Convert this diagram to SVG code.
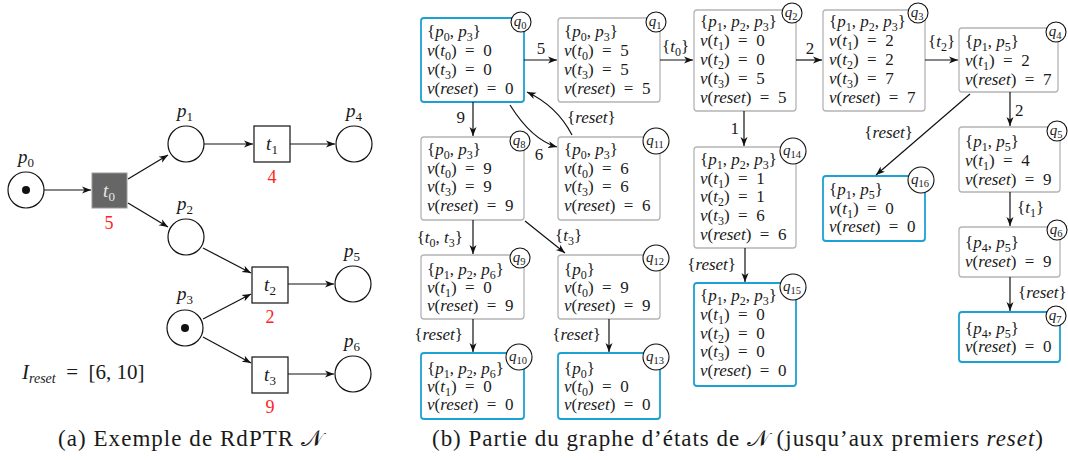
<svg xmlns="http://www.w3.org/2000/svg" width="1068" height="460" viewBox="0 0 1068 460" font-family="'Liberation Serif','Times New Roman',Times,'DejaVu Serif',serif">
<style>
.t{font-family:'Liberation Serif','Times New Roman',Times,'Noto Serif','DejaVu Serif',serif;font-size:17px;fill:#1a1a1a}
.i{font-style:italic}
.s{font-size:12px}
.ql{font-size:15px;text-anchor:middle}
.qs{font-size:10.5px}
.nb{fill:#fff;stroke:#b4b4b4;stroke-width:1.3}
.nr{fill:#fff;stroke:#1ba1d2;stroke-width:1.8}
.qc{fill:#fff;stroke:#111;stroke-width:1.1}
.e{fill:none;stroke:#111;stroke-width:1.2;marker-end:url(#ah)}
.pl{fill:#fff;stroke:#111;stroke-width:1.2}
.tr{fill:#fff;stroke:#111;stroke-width:1.2}
.big{font-size:19px}
.bs{font-size:13px}
.red{fill:#f22;font-size:18px;text-anchor:middle}
.mid{text-anchor:middle}
.end{text-anchor:end}
.cap{font-size:23px}
.cal{font-family:'DejaVu Serif','DejaVu Sans','Noto Sans',serif}
</style>
<defs>
<marker id="ah" markerWidth="10" markerHeight="8" refX="9" refY="4" orient="auto" markerUnits="userSpaceOnUse"><path d="M0,0.5 L9,4 L0,7.5 L2.5,4 z" fill="#111"/></marker>
</defs>

<g id="p0"><circle class="pl" cx="26" cy="190" r="18"/><circle cx="26" cy="190" r="4" fill="#111"/><text class="t big mid" x="26" y="163"><tspan class="i">p</tspan><tspan class="bs" dy="4">0</tspan></text></g>
<g id="t0"><rect x="92" y="173" width="35" height="35" fill="#666" stroke="#999" stroke-width="1"/><text class="t big mid" x="109" y="197" style="fill:#e6e6e6"><tspan class="i">t</tspan><tspan class="bs" dy="4">0</tspan></text><text class="t red" x="109" y="229">5</text></g>
<g id="p1"><circle class="pl" cx="186" cy="144" r="18"/><text class="t big mid" x="185" y="117"><tspan class="i">p</tspan><tspan class="bs" dy="4">1</tspan></text></g>
<g id="t1"><rect class="tr" x="254" y="126" width="36" height="36"/><text class="t big mid" x="272" y="150"><tspan class="i">t</tspan><tspan class="bs" dy="4">1</tspan></text><text class="t red" x="272" y="183">4</text></g>
<g id="p4"><circle class="pl" cx="354" cy="144" r="18"/><text class="t big mid" x="354" y="117"><tspan class="i">p</tspan><tspan class="bs" dy="4">4</tspan></text></g>
<g id="p2"><circle class="pl" cx="186" cy="237" r="18"/><text class="t big mid" x="185" y="210"><tspan class="i">p</tspan><tspan class="bs" dy="4">2</tspan></text></g>
<g id="t2"><rect class="tr" x="252" y="267" width="36" height="36"/><text class="t big mid" x="270" y="291"><tspan class="i">t</tspan><tspan class="bs" dy="4">2</tspan></text><text class="t red" x="270" y="323">2</text></g>
<g id="p5"><circle class="pl" cx="353" cy="284" r="18"/><text class="t big mid" x="352" y="257"><tspan class="i">p</tspan><tspan class="bs" dy="4">5</tspan></text></g>
<g id="p3"><circle class="pl" cx="185" cy="328" r="18"/><circle cx="185" cy="328" r="4" fill="#111"/><text class="t big mid" x="185" y="300"><tspan class="i">p</tspan><tspan class="bs" dy="4">3</tspan></text></g>
<g id="t3"><rect class="tr" x="252" y="357" width="36" height="36"/><text class="t big mid" x="270" y="381"><tspan class="i">t</tspan><tspan class="bs" dy="4">3</tspan></text><text class="t red" x="270" y="413">9</text></g>
<g id="p6"><circle class="pl" cx="353" cy="374" r="18"/><text class="t big mid" x="352" y="347"><tspan class="i">p</tspan><tspan class="bs" dy="4">6</tspan></text></g>
<text class="t" x="22" y="379" style="font-size:21px"><tspan class="i">I</tspan><tspan class="i" style="font-size:14px" dy="4">reset</tspan><tspan dy="-4">&#8194;=&#8194;[6, 10]</tspan></text>

<g id="net-arcs">
<path class="e" d="M44,190 L91,190"/>
<path class="e" d="M128,179 L168,155"/>
<path class="e" d="M128,203 L168,227"/>
<path class="e" d="M204,144 L253,144"/>
<path class="e" d="M290,144 L335,144"/>
<path class="e" d="M203,248 L251,273"/>
<path class="e" d="M203,319 L251,294"/>
<path class="e" d="M203,337 L251,363"/>
<path class="e" d="M288,284 L334,284"/>
<path class="e" d="M288,374 L334,374"/>
</g>

<g id="q0"><rect class="nr" x="421" y="18" width="103" height="84" rx="3"/>
<text class="t" x="427" y="37.3">{<tspan class="i">p</tspan><tspan class="s" dy="4">0</tspan><tspan dy="-4">, </tspan><tspan class="i">p</tspan><tspan class="s" dy="4">3</tspan><tspan dy="-4">}</tspan></text>
<text class="t" x="427" y="56"><tspan class="i">v</tspan>(<tspan class="i">t</tspan><tspan class="s" dy="4">0</tspan><tspan dy="-4">)&#8194;=&#8194;0</tspan></text>
<text class="t" x="427" y="74.8"><tspan class="i">v</tspan>(<tspan class="i">t</tspan><tspan class="s" dy="4">3</tspan><tspan dy="-4">)&#8194;=&#8194;0</tspan></text>
<text class="t" x="427" y="93.5"><tspan class="i">v</tspan>(<tspan class="i">reset</tspan>)&#8194;=&#8194;0</text>
<circle class="qc" cx="521" cy="22" r="10"/><text class="t ql" x="520" y="25.5"><tspan class="i">q</tspan><tspan class="qs" dy="3">0</tspan></text></g>

<g id="q1"><rect class="nb" x="558" y="18" width="102" height="84" rx="3"/>
<text class="t" x="564" y="37.3">{<tspan class="i">p</tspan><tspan class="s" dy="4">0</tspan><tspan dy="-4">, </tspan><tspan class="i">p</tspan><tspan class="s" dy="4">3</tspan><tspan dy="-4">}</tspan></text>
<text class="t" x="564" y="56"><tspan class="i">v</tspan>(<tspan class="i">t</tspan><tspan class="s" dy="4">0</tspan><tspan dy="-4">)&#8194;=&#8194;5</tspan></text>
<text class="t" x="564" y="74.8"><tspan class="i">v</tspan>(<tspan class="i">t</tspan><tspan class="s" dy="4">3</tspan><tspan dy="-4">)&#8194;=&#8194;5</tspan></text>
<text class="t" x="564" y="93.5"><tspan class="i">v</tspan>(<tspan class="i">reset</tspan>)&#8194;=&#8194;5</text>
<circle class="qc" cx="656" cy="22" r="10"/><text class="t ql" x="655" y="25.5"><tspan class="i">q</tspan><tspan class="qs" dy="3">1</tspan></text></g>

<g id="q2"><rect class="nb" x="694" y="10" width="102" height="101" rx="3"/>
<text class="t" x="700" y="26.7">{<tspan class="i">p</tspan><tspan class="s" dy="4">1</tspan><tspan dy="-4">, </tspan><tspan class="i">p</tspan><tspan class="s" dy="4">2</tspan><tspan dy="-4">, </tspan><tspan class="i">p</tspan><tspan class="s" dy="4">3</tspan><tspan dy="-4">}</tspan></text>
<text class="t" x="700" y="45.7"><tspan class="i">v</tspan>(<tspan class="i">t</tspan><tspan class="s" dy="4">1</tspan><tspan dy="-4">)&#8194;=&#8194;0</tspan></text>
<text class="t" x="700" y="64.7"><tspan class="i">v</tspan>(<tspan class="i">t</tspan><tspan class="s" dy="4">2</tspan><tspan dy="-4">)&#8194;=&#8194;0</tspan></text>
<text class="t" x="700" y="83.7"><tspan class="i">v</tspan>(<tspan class="i">t</tspan><tspan class="s" dy="4">3</tspan><tspan dy="-4">)&#8194;=&#8194;5</tspan></text>
<text class="t" x="700" y="102.7"><tspan class="i">v</tspan>(<tspan class="i">reset</tspan>)&#8194;=&#8194;5</text>
<circle class="qc" cx="792" cy="13" r="10"/><text class="t ql" x="791" y="16.5"><tspan class="i">q</tspan><tspan class="qs" dy="3">2</tspan></text></g>

<g id="q3"><rect class="nb" x="823" y="10" width="102" height="101" rx="3"/>
<text class="t" x="829" y="26.7">{<tspan class="i">p</tspan><tspan class="s" dy="4">1</tspan><tspan dy="-4">, </tspan><tspan class="i">p</tspan><tspan class="s" dy="4">2</tspan><tspan dy="-4">, </tspan><tspan class="i">p</tspan><tspan class="s" dy="4">3</tspan><tspan dy="-4">}</tspan></text>
<text class="t" x="829" y="45.7"><tspan class="i">v</tspan>(<tspan class="i">t</tspan><tspan class="s" dy="4">1</tspan><tspan dy="-4">)&#8194;=&#8194;2</tspan></text>
<text class="t" x="829" y="64.7"><tspan class="i">v</tspan>(<tspan class="i">t</tspan><tspan class="s" dy="4">2</tspan><tspan dy="-4">)&#8194;=&#8194;2</tspan></text>
<text class="t" x="829" y="83.7"><tspan class="i">v</tspan>(<tspan class="i">t</tspan><tspan class="s" dy="4">3</tspan><tspan dy="-4">)&#8194;=&#8194;7</tspan></text>
<text class="t" x="829" y="102.7"><tspan class="i">v</tspan>(<tspan class="i">reset</tspan>)&#8194;=&#8194;7</text>
<circle class="qc" cx="918" cy="13" r="10"/><text class="t ql" x="917" y="16.5"><tspan class="i">q</tspan><tspan class="qs" dy="3">3</tspan></text></g>

<g id="q4"><rect class="nb" x="959" y="28" width="99" height="64" rx="3"/>
<text class="t" x="965" y="47">{<tspan class="i">p</tspan><tspan class="s" dy="4">1</tspan><tspan dy="-4">, </tspan><tspan class="i">p</tspan><tspan class="s" dy="4">5</tspan><tspan dy="-4">}</tspan></text>
<text class="t" x="965" y="65.8"><tspan class="i">v</tspan>(<tspan class="i">t</tspan><tspan class="s" dy="4">1</tspan><tspan dy="-4">)&#8194;=&#8194;2</tspan></text>
<text class="t" x="965" y="84.6"><tspan class="i">v</tspan>(<tspan class="i">reset</tspan>)&#8194;=&#8194;7</text>
<circle class="qc" cx="1056" cy="32" r="10"/><text class="t ql" x="1055" y="35.5"><tspan class="i">q</tspan><tspan class="qs" dy="3">4</tspan></text></g>

<g id="q5"><rect class="nb" x="959" y="127" width="101" height="65" rx="3"/>
<text class="t" x="965" y="147.3">{<tspan class="i">p</tspan><tspan class="s" dy="4">1</tspan><tspan dy="-4">, </tspan><tspan class="i">p</tspan><tspan class="s" dy="4">5</tspan><tspan dy="-4">}</tspan></text>
<text class="t" x="965" y="166"><tspan class="i">v</tspan>(<tspan class="i">t</tspan><tspan class="s" dy="4">1</tspan><tspan dy="-4">)&#8194;=&#8194;4</tspan></text>
<text class="t" x="965" y="184.7"><tspan class="i">v</tspan>(<tspan class="i">reset</tspan>)&#8194;=&#8194;9</text>
<circle class="qc" cx="1057" cy="131" r="10"/><text class="t ql" x="1056" y="134.5"><tspan class="i">q</tspan><tspan class="qs" dy="3">5</tspan></text></g>

<g id="q6"><rect class="nb" x="959" y="227" width="101" height="50" rx="3"/>
<text class="t" x="965" y="248">{<tspan class="i">p</tspan><tspan class="s" dy="4">4</tspan><tspan dy="-4">, </tspan><tspan class="i">p</tspan><tspan class="s" dy="4">5</tspan><tspan dy="-4">}</tspan></text>
<text class="t" x="965" y="266.5"><tspan class="i">v</tspan>(<tspan class="i">reset</tspan>)&#8194;=&#8194;9</text>
<circle class="qc" cx="1057" cy="230" r="10"/><text class="t ql" x="1056" y="233.5"><tspan class="i">q</tspan><tspan class="qs" dy="3">6</tspan></text></g>

<g id="q7"><rect class="nr" x="959" y="312" width="101" height="50" rx="3"/>
<text class="t" x="965" y="334.3">{<tspan class="i">p</tspan><tspan class="s" dy="4">4</tspan><tspan dy="-4">, </tspan><tspan class="i">p</tspan><tspan class="s" dy="4">5</tspan><tspan dy="-4">}</tspan></text>
<text class="t" x="965" y="352"><tspan class="i">v</tspan>(<tspan class="i">reset</tspan>)&#8194;=&#8194;0</text>
<circle class="qc" cx="1056" cy="316" r="10"/><text class="t ql" x="1055" y="319.5"><tspan class="i">q</tspan><tspan class="qs" dy="3">7</tspan></text></g>

<g id="q8"><rect class="nb" x="421" y="137" width="103" height="83" rx="3"/>
<text class="t" x="427" y="155">{<tspan class="i">p</tspan><tspan class="s" dy="4">0</tspan><tspan dy="-4">, </tspan><tspan class="i">p</tspan><tspan class="s" dy="4">3</tspan><tspan dy="-4">}</tspan></text>
<text class="t" x="427" y="173.5"><tspan class="i">v</tspan>(<tspan class="i">t</tspan><tspan class="s" dy="4">0</tspan><tspan dy="-4">)&#8194;=&#8194;9</tspan></text>
<text class="t" x="427" y="192"><tspan class="i">v</tspan>(<tspan class="i">t</tspan><tspan class="s" dy="4">3</tspan><tspan dy="-4">)&#8194;=&#8194;9</tspan></text>
<text class="t" x="427" y="210.7"><tspan class="i">v</tspan>(<tspan class="i">reset</tspan>)&#8194;=&#8194;9</text>
<circle class="qc" cx="520" cy="141" r="10"/><text class="t ql" x="519" y="144.5"><tspan class="i">q</tspan><tspan class="qs" dy="3">8</tspan></text></g>

<g id="q9"><rect class="nb" x="421" y="255" width="103" height="64" rx="3"/>
<text class="t" x="427" y="274.5">{<tspan class="i">p</tspan><tspan class="s" dy="4">1</tspan><tspan dy="-4">, </tspan><tspan class="i">p</tspan><tspan class="s" dy="4">2</tspan><tspan dy="-4">, </tspan><tspan class="i">p</tspan><tspan class="s" dy="4">6</tspan><tspan dy="-4">}</tspan></text>
<text class="t" x="427" y="292.8"><tspan class="i">v</tspan>(<tspan class="i">t</tspan><tspan class="s" dy="4">1</tspan><tspan dy="-4">)&#8194;=&#8194;0</tspan></text>
<text class="t" x="427" y="311"><tspan class="i">v</tspan>(<tspan class="i">reset</tspan>)&#8194;=&#8194;9</text>
<circle class="qc" cx="520" cy="258" r="10"/><text class="t ql" x="519" y="261.5"><tspan class="i">q</tspan><tspan class="qs" dy="3">9</tspan></text></g>

<g id="q10"><rect class="nr" x="421" y="353" width="103" height="66" rx="3"/>
<text class="t" x="427" y="374.3">{<tspan class="i">p</tspan><tspan class="s" dy="4">1</tspan><tspan dy="-4">, </tspan><tspan class="i">p</tspan><tspan class="s" dy="4">2</tspan><tspan dy="-4">, </tspan><tspan class="i">p</tspan><tspan class="s" dy="4">6</tspan><tspan dy="-4">}</tspan></text>
<text class="t" x="427" y="392"><tspan class="i">v</tspan>(<tspan class="i">t</tspan><tspan class="s" dy="4">1</tspan><tspan dy="-4">)&#8194;=&#8194;0</tspan></text>
<text class="t" x="427" y="410"><tspan class="i">v</tspan>(<tspan class="i">reset</tspan>)&#8194;=&#8194;0</text>
<circle class="qc" cx="519" cy="357" r="13"/><text class="t ql" x="518" y="360.5"><tspan class="i">q</tspan><tspan class="qs" dy="3">10</tspan></text></g>

<g id="q11"><rect class="nb" x="558" y="137" width="102" height="83" rx="3"/>
<text class="t" x="564" y="155">{<tspan class="i">p</tspan><tspan class="s" dy="4">0</tspan><tspan dy="-4">, </tspan><tspan class="i">p</tspan><tspan class="s" dy="4">3</tspan><tspan dy="-4">}</tspan></text>
<text class="t" x="564" y="173.5"><tspan class="i">v</tspan>(<tspan class="i">t</tspan><tspan class="s" dy="4">0</tspan><tspan dy="-4">)&#8194;=&#8194;6</tspan></text>
<text class="t" x="564" y="192"><tspan class="i">v</tspan>(<tspan class="i">t</tspan><tspan class="s" dy="4">3</tspan><tspan dy="-4">)&#8194;=&#8194;6</tspan></text>
<text class="t" x="564" y="210.7"><tspan class="i">v</tspan>(<tspan class="i">reset</tspan>)&#8194;=&#8194;6</text>
<circle class="qc" cx="656" cy="141" r="13"/><text class="t ql" x="655" y="144.5"><tspan class="i">q</tspan><tspan class="qs" dy="3">11</tspan></text></g>

<g id="q12"><rect class="nb" x="558" y="255" width="102" height="64" rx="3"/>
<text class="t" x="564" y="274.5">{<tspan class="i">p</tspan><tspan class="s" dy="4">0</tspan><tspan dy="-4">}</tspan></text>
<text class="t" x="564" y="292.8"><tspan class="i">v</tspan>(<tspan class="i">t</tspan><tspan class="s" dy="4">0</tspan><tspan dy="-4">)&#8194;=&#8194;9</tspan></text>
<text class="t" x="564" y="311"><tspan class="i">v</tspan>(<tspan class="i">reset</tspan>)&#8194;=&#8194;9</text>
<circle class="qc" cx="656" cy="258" r="13"/><text class="t ql" x="655" y="261.5"><tspan class="i">q</tspan><tspan class="qs" dy="3">12</tspan></text></g>

<g id="q13"><rect class="nr" x="558" y="353" width="102" height="66" rx="3"/>
<text class="t" x="564" y="374.3">{<tspan class="i">p</tspan><tspan class="s" dy="4">0</tspan><tspan dy="-4">}</tspan></text>
<text class="t" x="564" y="392"><tspan class="i">v</tspan>(<tspan class="i">t</tspan><tspan class="s" dy="4">0</tspan><tspan dy="-4">)&#8194;=&#8194;0</tspan></text>
<text class="t" x="564" y="410"><tspan class="i">v</tspan>(<tspan class="i">reset</tspan>)&#8194;=&#8194;0</text>
<circle class="qc" cx="656" cy="357" r="13"/><text class="t ql" x="655" y="360.5"><tspan class="i">q</tspan><tspan class="qs" dy="3">13</tspan></text></g>

<g id="q14"><rect class="nb" x="694" y="147" width="102" height="101" rx="3"/>
<text class="t" x="700" y="165">{<tspan class="i">p</tspan><tspan class="s" dy="4">1</tspan><tspan dy="-4">, </tspan><tspan class="i">p</tspan><tspan class="s" dy="4">2</tspan><tspan dy="-4">, </tspan><tspan class="i">p</tspan><tspan class="s" dy="4">3</tspan><tspan dy="-4">}</tspan></text>
<text class="t" x="700" y="183.7"><tspan class="i">v</tspan>(<tspan class="i">t</tspan><tspan class="s" dy="4">1</tspan><tspan dy="-4">)&#8194;=&#8194;1</tspan></text>
<text class="t" x="700" y="202.4"><tspan class="i">v</tspan>(<tspan class="i">t</tspan><tspan class="s" dy="4">2</tspan><tspan dy="-4">)&#8194;=&#8194;1</tspan></text>
<text class="t" x="700" y="221.1"><tspan class="i">v</tspan>(<tspan class="i">t</tspan><tspan class="s" dy="4">3</tspan><tspan dy="-4">)&#8194;=&#8194;6</tspan></text>
<text class="t" x="700" y="239.8"><tspan class="i">v</tspan>(<tspan class="i">reset</tspan>)&#8194;=&#8194;6</text>
<circle class="qc" cx="793" cy="151" r="13"/><text class="t ql" x="792" y="154.5"><tspan class="i">q</tspan><tspan class="qs" dy="3">14</tspan></text></g>

<g id="q15"><rect class="nr" x="694" y="283" width="102" height="103" rx="3"/>
<text class="t" x="700" y="301">{<tspan class="i">p</tspan><tspan class="s" dy="4">1</tspan><tspan dy="-4">, </tspan><tspan class="i">p</tspan><tspan class="s" dy="4">2</tspan><tspan dy="-4">, </tspan><tspan class="i">p</tspan><tspan class="s" dy="4">3</tspan><tspan dy="-4">}</tspan></text>
<text class="t" x="700" y="319.8"><tspan class="i">v</tspan>(<tspan class="i">t</tspan><tspan class="s" dy="4">1</tspan><tspan dy="-4">)&#8194;=&#8194;0</tspan></text>
<text class="t" x="700" y="338.6"><tspan class="i">v</tspan>(<tspan class="i">t</tspan><tspan class="s" dy="4">2</tspan><tspan dy="-4">)&#8194;=&#8194;0</tspan></text>
<text class="t" x="700" y="357.4"><tspan class="i">v</tspan>(<tspan class="i">t</tspan><tspan class="s" dy="4">3</tspan><tspan dy="-4">)&#8194;=&#8194;0</tspan></text>
<text class="t" x="700" y="376.2"><tspan class="i">v</tspan>(<tspan class="i">reset</tspan>)&#8194;=&#8194;0</text>
<circle class="qc" cx="793" cy="287" r="13"/><text class="t ql" x="792" y="290.5"><tspan class="i">q</tspan><tspan class="qs" dy="3">15</tspan></text></g>

<g id="q16"><rect class="nr" x="823" y="176" width="102" height="65" rx="3"/>
<text class="t" x="829" y="195">{<tspan class="i">p</tspan><tspan class="s" dy="4">1</tspan><tspan dy="-4">, </tspan><tspan class="i">p</tspan><tspan class="s" dy="4">5</tspan><tspan dy="-4">}</tspan></text>
<text class="t" x="829" y="213.6"><tspan class="i">v</tspan>(<tspan class="i">t</tspan><tspan class="s" dy="4">1</tspan><tspan dy="-4">)&#8194;=&#8194;0</tspan></text>
<text class="t" x="829" y="232.3"><tspan class="i">v</tspan>(<tspan class="i">reset</tspan>)&#8194;=&#8194;0</text>
<circle class="qc" cx="921" cy="180" r="13"/><text class="t ql" x="920" y="183.5"><tspan class="i">q</tspan><tspan class="qs" dy="3">16</tspan></text></g>

<g id="connectors">
<path class="e" d="M524,60 L557,60"/>
<text class="t mid" x="541" y="54">5</text>
<path class="e" d="M660,60 L693,60"/>
<text class="t" x="662" y="52">{<tspan class="i">t</tspan><tspan class="s" dy="4">0</tspan><tspan dy="-4">}</tspan></text>
<path class="e" d="M796,60 L822,60"/>
<text class="t mid" x="810" y="54">2</text>
<path class="e" d="M925,60 L958,60"/>
<text class="t" x="928" y="47">{<tspan class="i">t</tspan><tspan class="s" dy="4">2</tspan><tspan dy="-4">}</tspan></text>
<path class="e" d="M1010,92 L1010,126"/>
<text class="t" x="1015" y="116">2</text>
<path class="e" d="M1010,192 L1010,226"/>
<text class="t" x="1017" y="213">{<tspan class="i">t</tspan><tspan class="s" dy="4">1</tspan><tspan dy="-4">}</tspan></text>
<path class="e" d="M1010,277 L1010,311"/>
<text class="t" x="1018" y="298">{<tspan class="i">reset</tspan>}</text>
<path class="e" d="M970,94 L876,175"/>
<text class="t end" x="913" y="138">{<tspan class="i">reset</tspan>}</text>
<path class="e" d="M744,111 L744,146"/>
<text class="t end" x="739" y="134">1</text>
<path class="e" d="M745,248 L745,282"/>
<text class="t end" x="736" y="270">{<tspan class="i">reset</tspan>}</text>
<path class="e" d="M473,102 L473,136"/>
<text class="t end" x="465" y="123">9</text>
<path class="e" d="M510,105 Q532,140 557,147"/>
<text class="t mid" x="539" y="160">6</text>
<path class="e" d="M572,135 Q557,106 527,92"/>
<text class="t" x="567" y="123">{<tspan class="i">reset</tspan>}</text>
<path class="e" d="M473,220 L473,254"/>
<text class="t end" x="463" y="243">{<tspan class="i">t</tspan><tspan class="s" dy="4">0</tspan><tspan dy="-4">, </tspan><tspan class="i">t</tspan><tspan class="s" dy="4">3</tspan><tspan dy="-4">}</tspan></text>
<path class="e" d="M525,221 L565,253"/>
<text class="t" x="555" y="241">{<tspan class="i">t</tspan><tspan class="s" dy="4">3</tspan><tspan dy="-4">}</tspan></text>
<path class="e" d="M473,319 L473,352"/>
<text class="t end" x="463" y="340">{<tspan class="i">reset</tspan>}</text>
<path class="e" d="M609,319 L609,352"/>
<text class="t end" x="601" y="340">{<tspan class="i">reset</tspan>}</text>
</g>

<text class="t cap" x="58" y="446" textLength="265" lengthAdjust="spacing">(a) Exemple de RdPTR <tspan class="cal">𝒩</tspan></text>
<text class="t cap" x="432" y="446" textLength="611" lengthAdjust="spacing">(b) Partie du graphe d’états de <tspan class="cal">𝒩</tspan> (jusqu’aux premiers <tspan class="i">reset</tspan>)</text>
</svg>
